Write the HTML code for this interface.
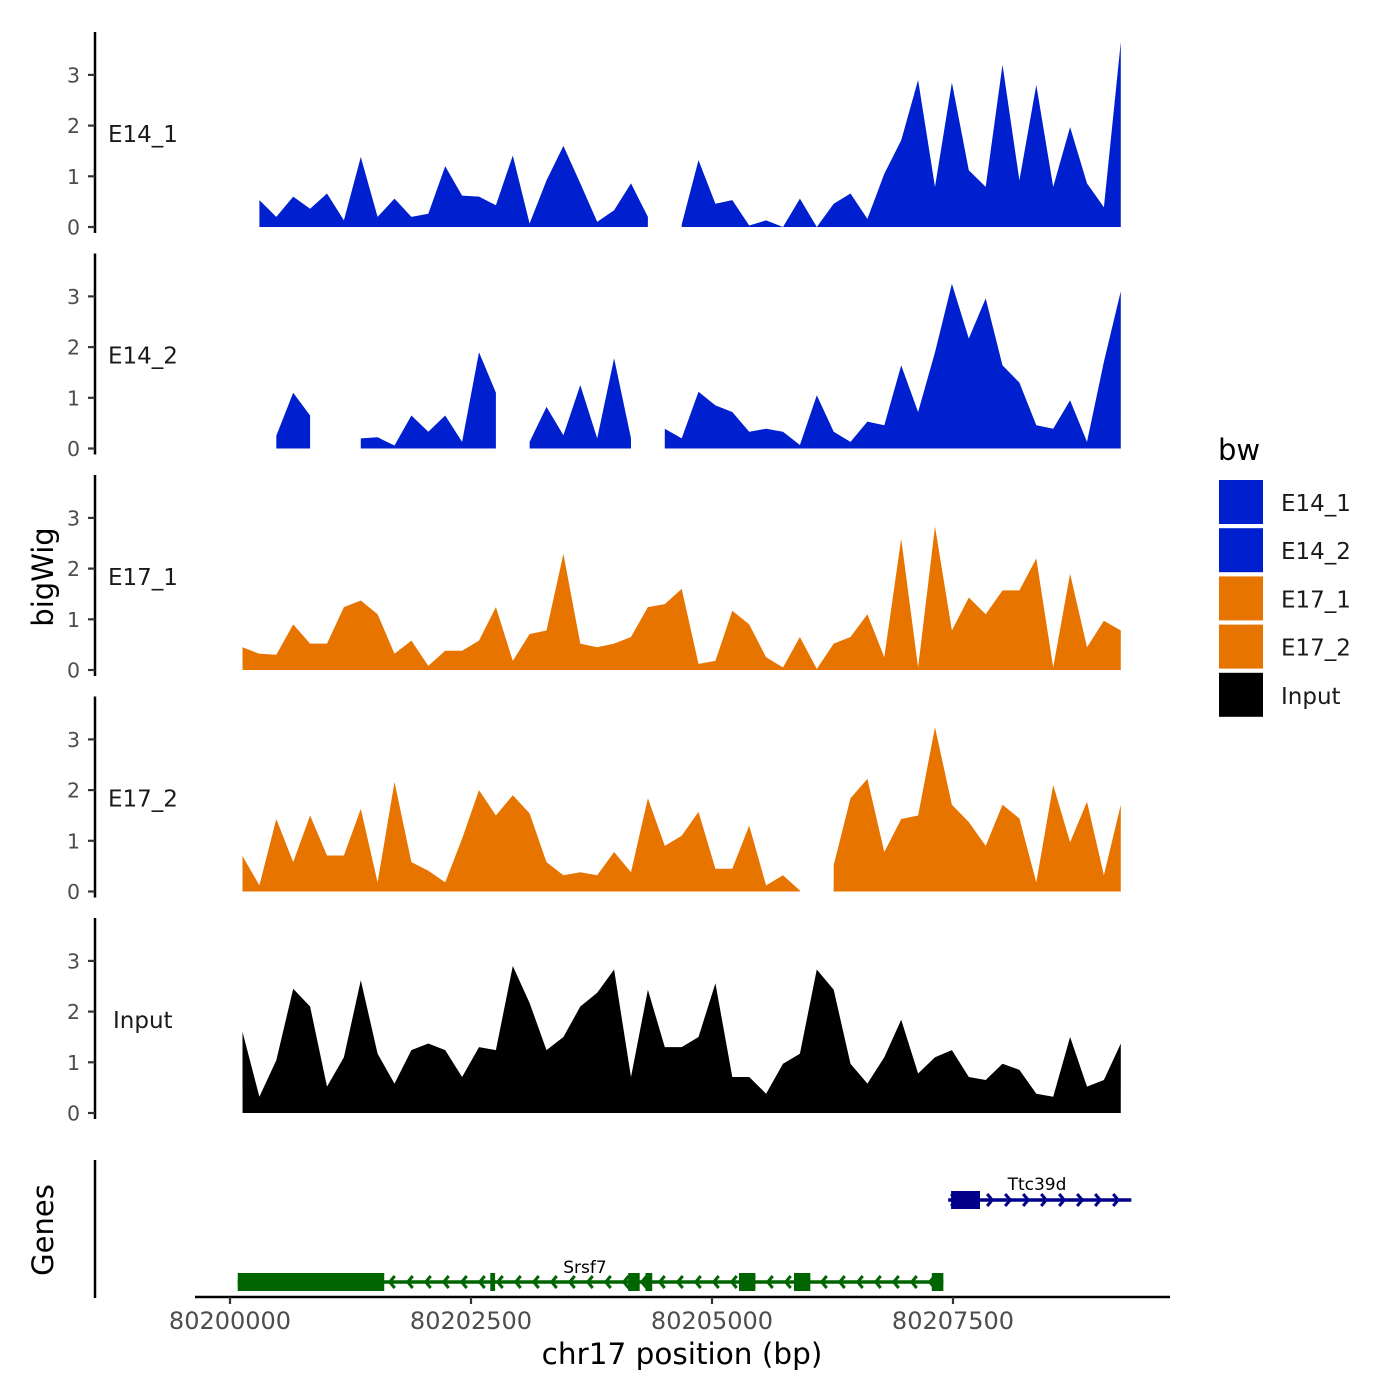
<!DOCTYPE html>
<html><head><meta charset="utf-8">
<style>
html,body{margin:0;padding:0;background:#fff;}
svg{display:block;font-family:"DejaVu Sans","Liberation Sans",sans-serif;}
</style></head>
<body>
<svg id="chart" width="1400" height="1400" viewBox="0 0 1400 1400" xmlns="http://www.w3.org/2000/svg">
<rect width="1400" height="1400" fill="#fff"/>
<g id="tracks"></g>
<g id="genes"></g>
<g id="axes"></g>
<text x="53" y="577" transform="rotate(-90 53 577)" text-anchor="middle" font-size="29" fill="#000">bigWig</text>
<text x="53" y="1230" transform="rotate(-90 53 1230)" text-anchor="middle" font-size="29" fill="#000">Genes</text>
<text x="682" y="1364" text-anchor="middle" font-size="29.5" fill="#000">chr17 position (bp)</text>
<g id="legend">
<text x="1218" y="460" font-size="29" fill="#000">bw</text>
</g>
</svg>
<script>
// ---- data ----
const sampleStartBp = 80200130;
const sampleStepBp = 175.2;
const trackNames = ["E14_1","E14_2","E17_1","E17_2","Input"];
const e14_1 = [null,0.53,0.2,0.6,0.36,0.66,0.13,1.38,0.2,0.56,0.2,0.26,1.2,0.62,0.6,0.43,1.41,0.07,0.92,1.6,0.86,0.1,0.33,0.86,0.2,null,0.05,1.32,0.46,0.53,0.03,0.13,0,0.56,0,0.46,0.66,0.16,1.05,1.71,2.9,0.79,2.85,1.12,0.79,3.2,0.92,2.8,0.79,1.97,0.86,0.39,3.65];
const e14_2 = [0.9,null,0.25,1.1,0.65,null,null,0.2,0.22,0.06,0.65,0.33,0.65,0.13,1.9,1.1,null,0.13,0.82,0.26,1.25,0.2,1.78,0.2,null,0.39,0.2,1.12,0.85,0.72,0.33,0.39,0.33,0.07,1.05,0.33,0.13,0.53,0.46,1.64,0.72,1.9,3.25,2.17,2.96,1.64,1.3,0.46,0.39,0.95,0.13,1.71,3.1];
const e17_1 = [0.45,0.32,0.3,0.9,0.52,0.52,1.24,1.37,1.1,0.32,0.58,0.08,0.38,0.38,0.58,1.24,0.18,0.71,0.78,2.29,0.52,0.45,0.52,0.65,1.24,1.3,1.6,0.12,0.18,1.17,0.9,0.25,0.05,0.65,0.02,0.52,0.65,1.1,0.25,2.59,0.05,2.83,0.78,1.43,1.1,1.57,1.57,2.2,0.05,1.9,0.45,0.97,0.78];
const e17_2 = [0.7,0.12,1.43,0.58,1.5,0.71,0.71,1.63,0.18,2.16,0.58,0.41,0.18,1.04,2.0,1.5,1.9,1.54,0.58,0.32,0.38,0.32,0.78,0.38,1.84,0.9,1.1,1.57,0.45,0.45,1.3,0.12,0.32,0.02,null,0.52,1.84,2.22,0.78,1.43,1.5,3.24,1.71,1.37,0.9,1.71,1.44,0.18,2.1,0.97,1.77,0.32,1.71];
const input = [1.6,0.32,1.04,2.45,2.1,0.52,1.1,2.62,1.17,0.58,1.24,1.37,1.24,0.71,1.3,1.24,2.9,2.17,1.24,1.5,2.1,2.37,2.83,0.71,2.43,1.3,1.3,1.5,2.56,0.71,0.71,0.38,0.97,1.17,2.83,2.43,0.97,0.58,1.1,1.84,0.78,1.1,1.24,0.71,0.65,0.97,0.85,0.38,0.32,1.5,0.52,0.65,1.37];
const trackValues = [e14_1,e14_2,e17_1,e17_2,input];
const trackColors = ["#0020D0","#0020D0","#E87400","#E87400","#000000"];
const yTicks = [0,1,2,3];
const xTicks = [80200000,80202500,80205000,80207500];
const xTickLabels = ["80200000","80202500","80205000","80207500"];
const legendLabels = ["E14_1","E14_2","E17_1","E17_2","Input"];
const ttcExons = [[80207480,80207780]];
const ttcSpan = [80207450,80209350];
const srsfExons = [[80200080,80201600],[80202700,80202750],[80204130,80204250],[80204310,80204380],[80205280,80205450],[80205850,80206020],[80207280,80207400]];
const srsfSpan = [80200080,80207400];

// ---- scales ----
const NS="http://www.w3.org/2000/svg";
function xs(bp){return 230+(bp-80200000)*241/2500;}
const panelZero=[227,448.5,670,891.5,1113];
const unitPx=50.7;
function ys(p,v){return panelZero[p]-v*unitPx;}
function mk(tag,attrs,parent){const e=document.createElementNS(NS,tag);for(const k in attrs)e.setAttribute(k,attrs[k]);parent.appendChild(e);return e;}

const tracks=document.getElementById('tracks');
const axes=document.getElementById('axes');
trackValues.forEach((vals,p)=>{
  const g=mk('g',{},tracks);
  
  
  let seg=[];
  const segs=[];
  vals.forEach((v,i)=>{
    if(v===null){if(seg.length)segs.push(seg);seg=[];}
    else seg.push([xs(sampleStartBp+i*sampleStepBp),v]);
  });
  if(seg.length)segs.push(seg);
  segs.forEach(s=>{
    let d='M'+s[0][0]+','+ys(p,0);
    s.forEach(pt=>{d+=' L'+pt[0].toFixed(1)+','+ys(p,pt[1]).toFixed(1);});
    d+=' L'+s[s.length-1][0]+','+ys(p,0)+' Z';
    const a=mk('path',{d:d,fill:trackColors[p]},g);
    
    
  });
  const top=panelZero[p]-195, bot=panelZero[p]+6;
  const ax=mk('line',{x1:95,x2:95,y1:top,y2:bot,stroke:'#000','stroke-width':2.5},axes);
  
  
  yTicks.forEach(t=>{
    const y=ys(p,t);
    const tk=mk('line',{x1:88,x2:95,y1:y,y2:y,stroke:'#333','stroke-width':2.2},axes);
    
    
    const tl=mk('text',{x:80,y:y+7.5,'text-anchor':'end','font-size':20.5,fill:'#4d4d4d'},axes);
    tl.textContent=String(t);
    
    
  });
  const lb=mk('text',{x:p===4?113:108,y:panelZero[p]-85,'font-size':23,fill:'#1a1a1a'},axes);
  lb.textContent=trackNames[p];
  
  
});

// genes
const genes=document.getElementById('genes');
function drawGene(name,span,exons,y,color,dir,labelX,labelY){
  const g=mk('g',{},genes);
  
  
  const x0=xs(span[0]),x1=xs(span[1]);
  mk('line',{x1:x0,x2:x1,y1:y,y2:y,stroke:color,'stroke-width':3.5},g);
  for(let x=x0+8;x<x1-2;x+=18){
    const dx=dir*5;
    mk('polyline',{points:(x-dx)+','+(y-6)+' '+x+','+y+' '+(x-dx)+','+(y+6),fill:'none',stroke:color,'stroke-width':3},g);
  }
  exons.forEach(e=>{
    const r=mk('rect',{x:xs(e[0]),y:y-9,width:Math.max(4,xs(e[1])-xs(e[0])),height:18,fill:color},g);
    
    
  });
  const t=mk('text',{x:labelX,y:labelY,'text-anchor':'middle','font-size':17,fill:'#000'},g);
  t.textContent=name;
  
  
}
drawGene('Ttc39d',ttcSpan,ttcExons,1200,'#00008B',1,1037,1190);
drawGene('Srsf7',srsfSpan,srsfExons,1282,'#006400',-1,585,1273);

const ga=mk('line',{x1:95,x2:95,y1:1160,y2:1298,stroke:'#000','stroke-width':2.5},axes);


const xa=mk('line',{x1:195,x2:1170,y1:1297,y2:1297,stroke:'#000','stroke-width':2.5},axes);


xTicks.forEach((t,i)=>{
  const x=xs(t);
  const tk=mk('line',{x1:x,x2:x,y1:1297,y2:1304,stroke:'#333','stroke-width':2.2},axes);
  
  
  const tl=mk('text',{x:x,y:1329,'text-anchor':'middle','font-size':24,fill:'#4d4d4d'},axes);
  tl.textContent=xTickLabels[i];
  
  
});

// legend
const legend=document.getElementById('legend');
legendLabels.forEach((l,i)=>{
  const y=480+i*48.2;
  const r=mk('rect',{x:1219,y:y,width:44,height:44,fill:trackColors[i]},legend);
  
  
  const t=mk('text',{x:1281,y:y+31,'font-size':23,fill:'#1a1a1a'},legend);
  t.textContent=l;
  
  
});
</script>
</body></html>
